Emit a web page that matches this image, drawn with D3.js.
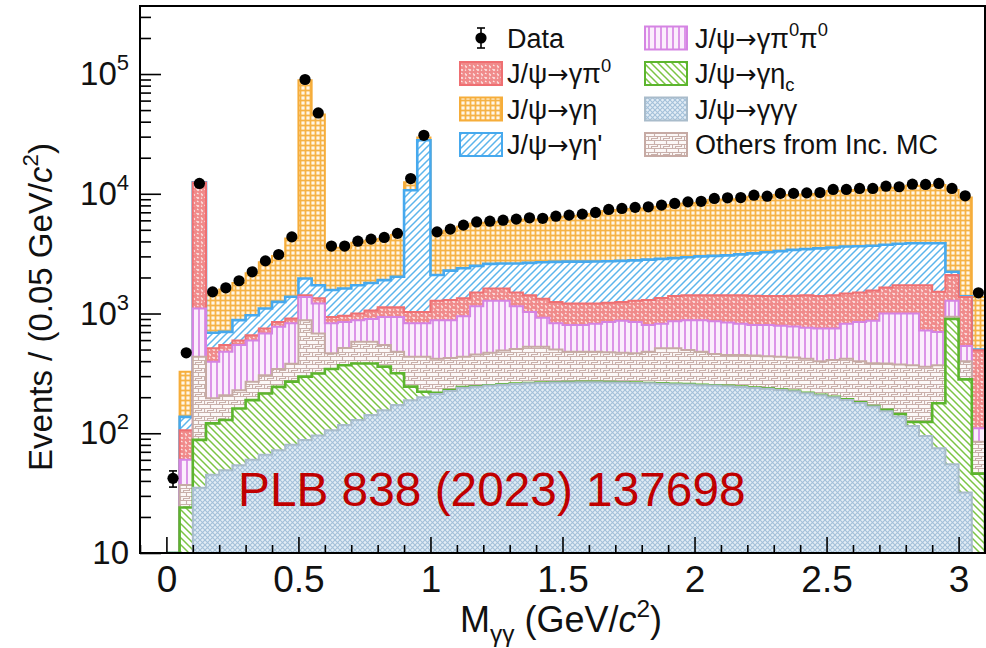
<!DOCTYPE html>
<html><head><meta charset="utf-8"><title>M_gg</title>
<script src="https://cdn.jsdelivr.net/npm/d3@7/dist/d3.min.js"></script>
<style>
html,body{margin:0;padding:0;background:#fff;}
svg{display:block;font-family:"Liberation Sans",Arial,Helvetica,sans-serif;}
</style></head><body>
<svg id="chart" width="986" height="648"></svg>
<script>
// ---------------- data ----------------
const binLow = [0,0.05,0.1,0.15,0.2,0.25,0.3,0.35,0.4,0.45,0.5,0.55,0.6,0.65,0.7,0.75,0.8,0.85,0.9,0.95,
  1,1.05,1.1,1.15,1.2,1.25,1.3,1.35,1.4,1.45,1.5,1.55,1.6,1.65,1.7,1.75,1.8,1.85,1.9,1.95,
  2,2.05,2.1,2.15,2.2,2.25,2.3,2.35,2.4,2.45,2.5,2.55,2.6,2.65,2.7,2.75,2.8,2.85,2.9,2.95,3,3.05];
const binWidth = 0.05;
const dataCounts = [42,470,12200,1517,1640,1877,2230,2750,3110,4365,
  90000,47300,3660,3660,4020,4180,4320,4670,13400,30800,
  4810,5070,5470,5820,5900,6020,6140,6300,6240,6500,
  6630,6760,6980,7400,7540,7700,7780,8040,8300,8560,
  8650,9140,9250,9300,9730,9550,10070,10070,10170,10250,
  10870,10870,11080,11080,11570,11450,12030,11970,12200,11080,9620,1490];
const mcGGG = [0,0,35,45,49,54,60,66,72,80,
  88,96,106,117,129,142,156,172,189,200,
  213,225,240,245,250,254,258,261,263,265,
  266,267,267,266,265,263,261,259,257,255,
  252,250,247,243,239,235,230,224,216,208,
  200,190,179,167,153,138,115,95,75,55,32,0];
const mcEtaC = [0,24,53,76,80,107,129,149,172,190,
  209,220,238,253,253,240,204,145,56,22,
  5,4,3,2,2,2,2,2,2,2,
  2,2,2,2,2,2,2,2,2,2,
  2,2,2,2,2,2,2,2,2,2,
  2,2,2,2,4,7,9,29,103,845,250,46];
const mcOthers = [0,13,347,75,79,68,80,90,100,111,
  583,364,121,145,198,198,185,163,190,213,
  202,196,192,208,218,234,245,264,262,233,
  212,211,211,207,203,200,217,251,253,238,
  226,208,201,205,204,203,203,204,202,190,
  208,228,219,216,225,230,246,236,192,40,118,39];
const mcPi0Pi0 = [0,23,665,199,271,316,327,375,432,449,
  497,530,365,335,300,320,392,457,395,395,
  460,455,515,695,810,790,645,503,393,330,
  320,320,340,375,400,385,320,308,348,385,
  400,400,390,370,355,360,355,350,340,350,
  340,400,450,485,618,625,630,360,330,340,135,25];
const mcPi0 = [0,46,11300,117,66,51,64,70,74,80,
  43,130,107,110,120,160,193,193,200,200,
  400,420,390,350,340,340,350,390,410,420,
  410,410,390,380,380,430,500,530,540,540,
  540,560,580,600,610,600,610,630,660,650,
  670,650,650,690,650,720,720,1000,817,820,842,384];
const mcEtaPrime = [0,31,50,178,158,284,306,350,400,470,
  540,380,633,660,720,740,770,900,9670,26970,
  820,980,1050,1000,980,1000,1120,1230,1350,1450,
  1500,1500,1510,1500,1500,1500,1520,1510,1500,1530,
  1580,1610,1640,1700,1770,1850,1920,1990,2030,2100,
  2140,2160,2150,2120,2100,2100,2140,2140,2343,130,13,6];
const mcEta = [0,189,100,780,887,920,1204,1580,1770,2850,
  86740,44180,1980,1930,2180,2250,2290,2500,1800,1500,
  2570,2640,2920,3150,3120,3220,3340,3460,3370,3600,
  3720,3850,4050,4450,4560,4690,4730,4940,5150,5350,
  5390,5840,5910,5900,6260,6010,6450,6370,6410,6440,
  6980,6910,7100,7070,7470,7290,7810,7750,7970,8520,7940,877];
const xTickValues = [0,0.5,1,1.5,2,2.5,3];
const xTickLabels = ["0","0.5","1","1.5","2","2.5","3"];
const yTickValues = [10,100,1000,10000,100000];
const yTickExponents = ["","2","3","4","5"];

// ---------------- layout ----------------
const L = 140, R = 985, T = 6, B = 553;
const svg = d3.select("#chart");
const x = d3.scaleLinear().domain([-0.1, 3.1]).range([L, R]);
const y = d3.scaleLog().domain([10, 3.7e5]).range([B, T]).clamp(true);
const yc = v => y(Math.max(v, 1));

// ---------------- patterns ----------------
const defs = svg.append("defs");
function pat(id, w, h, build) {
  const p = defs.append("pattern").attr("id", id).attr("patternUnits", "userSpaceOnUse")
    .attr("width", w).attr("height", h);
  build(p);
}
pat("pEta", 5, 5, p => {
  p.append("rect").attr("width", 5).attr("height", 5).attr("fill", "#f6b245");
  p.append("rect").attr("x", 1.4).attr("y", 1.4).attr("width", 3.2).attr("height", 3.2).attr("fill", "#fff6e6");
});
pat("pEtaP", 7, 7, p => {
  p.append("rect").attr("width", 7).attr("height", 7).attr("fill", "#ffffff");
  p.append("path").attr("d", "M-1,1 L1,-1 M0,7 L7,0 M6,8 L8,6").attr("stroke", "#5cb5ec").attr("stroke-width", 1.5);
});
pat("pPi0", 8, 8, p => {
  p.append("rect").attr("width", 8).attr("height", 8).attr("fill", "#f08a8a");
  p.append("path").attr("d", "M1,1.5 l1.5,1.5 l-1,1 M5,1 l1.5,1 M4.5,5 l1.5,1.5 l1,-1 M1,6.5 l1.2,-0.8")
    .attr("stroke", "#fde9e9").attr("stroke-width", 1.1).attr("fill", "none");
});
pat("pPiPi", 6, 6, p => {
  p.append("rect").attr("width", 6).attr("height", 6).attr("fill", "#fbeefc");
  p.append("path").attr("d", "M1,0 V6").attr("stroke", "#d98be6").attr("stroke-width", 1.8);
});
pat("pEtaC", 7, 7, p => {
  p.append("rect").attr("width", 7).attr("height", 7).attr("fill", "#ffffff");
  p.append("path").attr("d", "M-1,6 L1,8 M0,0 L7,7 M6,-1 L8,1").attr("stroke", "#7cc444").attr("stroke-width", 1.5);
});
pat("pGGG", 5, 5, p => {
  p.append("rect").attr("width", 5).attr("height", 5).attr("fill", "#e3edf6");
  p.append("path").attr("d", "M0,0 L5,5 M5,0 L0,5").attr("stroke", "#a3c0d9").attr("stroke-width", 1.1);
});
pat("pOth", 12, 8, p => {
  p.append("rect").attr("width", 12).attr("height", 8).attr("fill", "#fcf8f7");
  p.append("path").attr("d", "M0,0.5 H12 M0,4.5 H12 M0.5,0.5 V4.5 M6.5,4.5 V8 M3.5,4.5 V2.5 H9.5 V0.5")
    .attr("stroke", "#c9b0ab").attr("stroke-width", 1.1).attr("fill", "none");
});

// ---------------- layers (bottom -> top) ----------------
const layers = [
  {key: "ggg",   values: mcGGG,      fill: "url(#pGGG)",  line: "#a9bccb", lw: 2},
  {key: "etac",  values: mcEtaC,     fill: "url(#pEtaC)", line: "#5cb52e", lw: 2.6},
  {key: "oth",   values: mcOthers,   fill: "url(#pOth)",  line: "#c6aaa4", lw: 2},
  {key: "pipi",  values: mcPi0Pi0,   fill: "url(#pPiPi)", line: "#d584e3", lw: 2},
  {key: "pi0",   values: mcPi0,      fill: "url(#pPi0)",  line: "#ef6f72", lw: 2},
  {key: "etap",  values: mcEtaPrime, fill: "url(#pEtaP)", line: "#46a9ee", lw: 2.6},
  {key: "eta",   values: mcEta,      fill: "url(#pEta)",  line: "#f6ad3a", lw: 2}
];
const rows = binLow.map((b, i) => {
  const r = {x0: b};
  layers.forEach(l => r[l.key] = l.values[i]);
  return r;
});
const series = d3.stack().keys(layers.map(l => l.key))(rows);

svg.append("clipPath").attr("id", "plotClip").append("rect")
  .attr("x", L).attr("y", T).attr("width", R - L).attr("height", B - T);
const plot = svg.append("g").attr("clip-path", "url(#plotClip)");

const area = d3.area().x(d => x(d.x)).y0(d => yc(d.y0)).y1(d => yc(d.y1));
const line = d3.line().x(d => x(d.x)).y(d => yc(d.v));

for (let k = layers.length - 1; k >= 0; k--) {
  const s = series[k];
  const pts = [];
  const top = [{x: binLow[0], v: 0}];
  s.forEach((d, i) => {
    pts.push({x: binLow[i], y0: d[0], y1: d[1]});
    pts.push({x: binLow[i] + binWidth, y0: d[0], y1: d[1]});
    top.push({x: binLow[i], v: d[1]});
    top.push({x: binLow[i] + binWidth, v: d[1]});
  });
  top.push({x: binLow[binLow.length - 1] + binWidth, v: 0});
  plot.append("path").attr("d", area(pts)).attr("fill", layers[k].fill).attr("stroke", "none");
  plot.append("path").attr("d", line(top)).attr("fill", "none")
    .attr("stroke", layers[k].line).attr("stroke-width", layers[k].lw).attr("stroke-linejoin", "miter");
}

// data points
const dg = plot.append("g");
binLow.forEach((b, i) => {
  const v = dataCounts[i];
  const cx = x(b + binWidth / 2);
  const e = Math.sqrt(v);
  const y1 = yc(v + e), y2 = yc(v - e);
  dg.append("line").attr("x1", cx).attr("x2", cx).attr("y1", y1).attr("y2", y2).attr("stroke", "#000").attr("stroke-width", 1.6);
  dg.append("line").attr("x1", cx - 4).attr("x2", cx + 4).attr("y1", y1).attr("y2", y1).attr("stroke", "#000").attr("stroke-width", 1.6);
  dg.append("line").attr("x1", cx - 4).attr("x2", cx + 4).attr("y1", y2).attr("y2", y2).attr("stroke", "#000").attr("stroke-width", 1.6);
  dg.append("circle").attr("cx", cx).attr("cy", yc(v)).attr("r", 5.6).attr("fill", "#000");
});

// ---------------- axes ----------------
const axG = svg.append("g");
const yMinor = [];
for (let e = 1; e <= 5; e++) for (let m = 2; m <= 9; m++) { const v = m * Math.pow(10, e); if (v < 3.7e5) yMinor.push(v); }
axG.append("g").attr("transform", `translate(${L},0)`)
  .call(d3.axisLeft(y).tickValues(yMinor).tickSize(-11).tickFormat(() => ""))
  .call(g => g.select(".domain").remove());
axG.append("g").attr("transform", `translate(${L},0)`)
  .call(d3.axisLeft(y).tickValues(yTickValues).tickSize(-21).tickFormat(() => ""))
  .call(g => g.select(".domain").remove());
const xMinor = d3.range(-1, 32).map(k => k / 10).filter(v => Math.abs(v * 2 - Math.round(v * 2)) > 1e-6);
axG.append("g").attr("transform", `translate(0,${B})`)
  .call(d3.axisBottom(x).tickValues(xMinor).tickSize(-8).tickFormat(() => ""))
  .call(g => g.select(".domain").remove());
axG.append("g").attr("transform", `translate(0,${B})`)
  .call(d3.axisBottom(x).tickValues(xTickValues).tickSize(-16).tickPadding(13)
    .tickFormat((d, i) => xTickLabels[i]))
  .call(g => g.select(".domain").remove())
  .call(g => g.selectAll("text").attr("font-size", 37).attr("fill", "#111")
    .attr("font-family", '"Liberation Sans",Arial,sans-serif'));
axG.selectAll(".tick line").attr("stroke", "#000").attr("stroke-width", 1.6);

// y tick labels with superscripts
yTickValues.forEach((v, i) => {
  const t = svg.append("text").attr("x", 129).attr("y", yc(v) + 11).attr("text-anchor", "end")
    .attr("font-size", 33).attr("fill", "#111");
  t.append("tspan").text("10");
  if (yTickExponents[i]) t.append("tspan").attr("font-size", 22).attr("dy", -15).text(yTickExponents[i]);
});

// frame
svg.append("rect").attr("x", L).attr("y", T).attr("width", R - L).attr("height", B - T)
  .attr("fill", "none").attr("stroke", "#000").attr("stroke-width", 2);

// ---------------- rich text helper ----------------
function rich(sel, segs, size) {
  let cur = 0;
  segs.forEach(s => {
    const target = s.sup ? -0.42 * size : (s.sub ? 0.28 * size : 0);
    const ts = sel.append("tspan").text(s.t).attr("dy", target - cur);
    if (s.sup || s.sub) ts.attr("font-size", size * 0.68);
    if (s.it) ts.attr("font-style", "italic");
    if (s.arrow) ts.attr("font-family", '"DejaVu Sans",sans-serif').attr("font-size", size * 0.95);
    cur = target;
  });
}
const arrowSeg = {t: "→", arrow: true};

// axis titles
const yt = svg.append("text").attr("transform", "translate(52,307) rotate(-90)")
  .attr("text-anchor", "middle").attr("font-size", 33).attr("fill", "#111");
rich(yt, [{t: "Events / (0.05 GeV/"}, {t: "c", it: true}, {t: "2", sup: true}, {t: ")"}], 33);
const xt = svg.append("text").attr("x", 561).attr("y", 632).attr("text-anchor", "middle")
  .attr("font-size", 36).attr("fill", "#111");
rich(xt, [{t: "M"}, {t: "γγ", sub: true}, {t: " (GeV/"}, {t: "c", it: true}, {t: "2", sup: true}, {t: ")"}], 36);

// watermark
svg.append("text").attr("x", 238).attr("y", 506).attr("font-size", 47.8).attr("fill", "#c00000")
  .text("PLB 838 (2023) 137698");

// ---------------- legend ----------------
const legendCol1 = [
  {type: "data", segs: [{t: "Data"}]},
  {type: "box", fill: "url(#pPi0)", line: "#ef6f72", segs: [{t: "J/ψ"}, arrowSeg, {t: "γπ"}, {t: "0", sup: true}]},
  {type: "box", fill: "url(#pEta)", line: "#f6ad3a", segs: [{t: "J/ψ"}, arrowSeg, {t: "γη"}]},
  {type: "box", fill: "url(#pEtaP)", line: "#46a9ee", segs: [{t: "J/ψ"}, arrowSeg, {t: "γη'"}]}
];
const legendCol2 = [
  {type: "box", fill: "url(#pPiPi)", line: "#d584e3", segs: [{t: "J/ψ"}, arrowSeg, {t: "γπ"}, {t: "0", sup: true}, {t: "π"}, {t: "0", sup: true}]},
  {type: "box", fill: "url(#pEtaC)", line: "#5cb52e", segs: [{t: "J/ψ"}, arrowSeg, {t: "γη"}, {t: "c", sub: true}]},
  {type: "box", fill: "url(#pGGG)", line: "#a9bccb", segs: [{t: "J/ψ"}, arrowSeg, {t: "γγγ"}]},
  {type: "box", fill: "url(#pOth)", line: "#c6aaa4", segs: [{t: "Others from Inc. MC"}]}
];
const rowY = [38, 73.5, 109, 144.5];
function drawLegend(items, bx, tx) {
  items.forEach((it, i) => {
    const cy = rowY[i];
    if (it.type === "data") {
      const cx = bx + 21;
      svg.append("line").attr("x1", cx).attr("x2", cx).attr("y1", cy - 10).attr("y2", cy + 10).attr("stroke", "#000").attr("stroke-width", 1.6);
      [cy - 10, cy + 10].forEach(yy => svg.append("line").attr("x1", cx - 4).attr("x2", cx + 4).attr("y1", yy).attr("y2", yy).attr("stroke", "#000").attr("stroke-width", 1.6));
      svg.append("circle").attr("cx", cx).attr("cy", cy).attr("r", 5.6).attr("fill", "#000");
    } else {
      svg.append("rect").attr("x", bx).attr("y", cy - 11.5).attr("width", 42).attr("height", 23)
        .attr("fill", it.fill).attr("stroke", it.line).attr("stroke-width", 2);
    }
    const t = svg.append("text").attr("x", tx).attr("y", cy + 9.5).attr("font-size", 27).attr("fill", "#111");
    rich(t, it.segs, 27);
  });
}
drawLegend(legendCol1, 460, 507);
drawLegend(legendCol2, 645, 695);
</script>
</body></html>
